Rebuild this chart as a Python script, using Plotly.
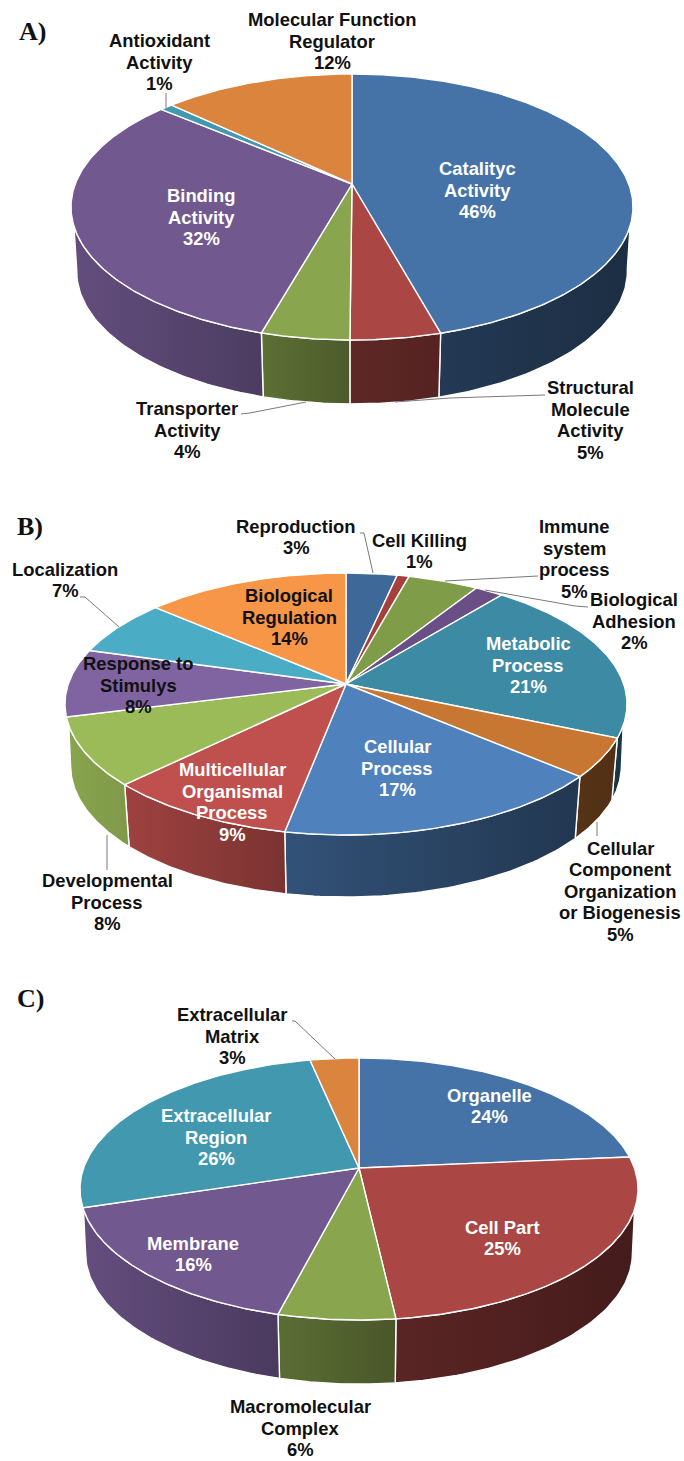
import numpy as np
import plotly.graph_objects as go

# ---------- data ----------
names_a = ["Catalityc<br>Activity", "Structural<br>Molecule<br>Activity", "Transporter<br>Activity",
           "Binding<br>Activity", "Antioxidant<br>Activity", "Molecular Function<br>Regulator"]
labels_a = [46, 5, 4, 32, 1, 12]
shares_a = [45.7, 4.4, 4.3, 31.7, 0.9, 13.0]

names_b = ["Reproduction", "Cell Killing", "Immune<br>system<br>process", "Biological<br>Adhesion",
           "Metabolic<br>Process", "Cellular<br>Component<br>Organization<br>or Biogenesis",
           "Cellular<br>Process", "Multicellular<br>Organismal<br>Process", "Developmental<br>Process",
           "Response to<br>Stimulys", "Localization", "Biological<br>Regulation"]
labels_b = [3, 1, 5, 2, 21, 5, 17, 9, 8, 8, 7, 14]
shares_b = [3.4, 0.8, 4.7, 1.9, 20.7, 4.8, 16.7, 9.6, 8.4, 8.4, 7.0, 13.6]

names_c = ["Organelle", "Cell Part", "Macromolecular<br>Complex", "Membrane",
           "Extracellular<br>Region", "Extracellular<br>Matrix"]
labels_c = [24, 25, 6, 16, 26, 3]
shares_c = [23.6, 24.6, 5.8, 16.2, 26.5, 3.3]

colors_a = ["#4572A7", "#AA4643", "#89A54E", "#71588F", "#4198AF", "#DB843D"]
colors_b = ["#3D6898", "#A5403C", "#7F9C48", "#694F85", "#3C8AA3", "#C87733",
            "#4F81BD", "#C0504D", "#9BBB59", "#8064A2", "#4BACC6", "#F79646"]
colors_c = colors_a

# ---------- layout of the three pies (centre, half width, back, front, depth) ----------
PIES = [
    dict(cx=352, cy=184, hw=281, back=110, front=156, depth=64),
    dict(cx=346, cy=684, hw=281, back=111, front=151, depth=62),
    dict(cx=359, cy=1168, hw=279, back=110, front=152, depth=64),
]
# label centres (x, y), text colour
pos_a = [(477, 190, "w"), (590, 420, "k"), (187, 430, "k"), (201, 217, "w"), (159, 62, "k"), (332, 41, "k")]
pos_b = [(296, 537, "k"), (419, 551, "k"), (574, 559, "k"), (634, 621, "k"), (528, 665, "w"), (620, 891, "k"),
         (397, 768, "w"), (232, 802, "w"), (107, 902, "k"), (138, 685, "k"), (65, 580, "k"), (289, 617, "k")]
pos_c = [(489, 1106, "w"), (502, 1238, "w"), (300, 1428, "k"), (193, 1254, "w"), (216, 1137, "w"), (232, 1036, "k")]

leaders = [
    [(166, 93), (166, 108)],
    [(241, 414), (250, 413), (306, 402)],
    [(395, 402), (450, 398), (545, 395)],
    [(360, 533), (364, 533), (373, 573)],
    [(538, 576), (445, 581)],
    [(588, 607), (575, 606), (485, 590)],
    [(80, 597), (85, 597), (119, 627)],
    [(597, 822), (597, 836)],
    [(107, 835), (107, 870)],
    [(292, 1021), (295, 1021), (335, 1059)],
]
panel_letters = [("A)", 32, 31), ("B)", 30, 526), ("C)", 30, 998)]
LINE_PITCH = 21.5
WALL_TOP = (108, 252)
WALL_BOTTOM = (99, 261)


def projector(p):
    k = (p["front"] - p["back"]) / (p["front"] + p["back"])
    A = p["back"] * (1 + k)
    B = p["hw"] * np.sqrt(1 - k * k)

    def rim(deg):
        a = np.radians(deg)
        X, Y = np.sin(a), np.cos(a)
        w = 1 + k * Y
        return p["cx"] + B * X / w, p["cy"] - A * Y / w

    return rim


def shade(hex_col, f):
    r, g, b = int(hex_col[1:3], 16), int(hex_col[3:5], 16), int(hex_col[5:7], 16)
    return f"rgb({r*f:.0f},{g*f:.0f},{b*f:.0f})"


def brightness(u):
    return float(np.interp(u, [-1, -0.5, 0, 1], [0.88, 0.75, 0.55, 0.40]))


fig = go.Figure()


def add_pie(p, shares, colors):
    rim = projector(p)
    edges = np.concatenate([[0], np.cumsum(shares)]) / sum(shares) * 360
    # side walls
    for i in range(len(shares)):
        e0, e1 = edges[i], edges[i + 1]
        t0, t1 = max(e0, WALL_TOP[0]), min(e1, WALL_TOP[1])
        if t1 <= t0:
            continue
        b0 = e0 if e0 >= WALL_TOP[0] else WALL_BOTTOM[0]
        b1 = e1 if e1 <= WALL_TOP[1] else WALL_BOTTOM[1]
        xt, yt = rim(np.linspace(t0, t1, 60))
        xr, yr = rim(np.linspace(b0, b1, 60))
        xb = p["cx"] + (xr - p["cx"]) * 0.98
        yb = yr + p["depth"]
        xs = np.concatenate([xt, xb[::-1], xt[:1]])
        ys = np.concatenate([yt, yb[::-1], yt[:1]])
        x0, x1 = xs.min(), xs.max()
        f0 = brightness((x0 - p["cx"]) / p["hw"])
        f1 = brightness((x1 - p["cx"]) / p["hw"])
        fig.add_trace(go.Scatter(
            x=xs, y=ys, mode="lines", fill="toself",
            line=dict(color="white", width=1.4),
            fillgradient=dict(type="horizontal", start=x0, stop=x1,
                              colorscale=[[0, shade(colors[i], f0)], [1, shade(colors[i], f1)]]),
            hoverinfo="skip", showlegend=False))
    # top faces
    for i in range(len(shares)):
        t = np.linspace(edges[i], edges[i + 1], max(6, int(edges[i + 1] - edges[i]) * 2))
        xt, yt = rim(t)
        xs = np.concatenate([[p["cx"]], xt, [p["cx"]]])
        ys = np.concatenate([[p["cy"]], yt, [p["cy"]]])
        fig.add_trace(go.Scatter(
            x=xs, y=ys, mode="lines", fill="toself", fillcolor=colors[i],
            line=dict(color="white", width=1.4),
            hoverinfo="skip", showlegend=False))


add_pie(PIES[0], shares_a, colors_a)
add_pie(PIES[1], shares_b, colors_b)
add_pie(PIES[2], shares_c, colors_c)

for seg in leaders:
    fig.add_trace(go.Scatter(x=[q[0] for q in seg], y=[q[1] for q in seg], mode="lines",
                             line=dict(color="#7a7a7a", width=1), hoverinfo="skip", showlegend=False))

annotations = []
for names, vals, pos in [(names_a, labels_a, pos_a), (names_b, labels_b, pos_b), (names_c, labels_c, pos_c)]:
    for n, v, (x, y, c) in zip(names, vals, pos):
        lines = n.split("<br>") + [f"{v}%"]
        for j, line in enumerate(lines):
            annotations.append(dict(x=x, y=y + (j - (len(lines) - 1) / 2) * LINE_PITCH,
                                    xref="x", yref="y", text=f"<b>{line}</b>",
                                    showarrow=False, xanchor="center", yanchor="middle", align="center",
                                    font=dict(family="Liberation Sans", size=18.4,
                                              color="white" if c == "w" else "#111111")))
for s, x, y in panel_letters:
    annotations.append(dict(x=x, y=y, xref="x", yref="y", text=f"<b>{s}</b>", showarrow=False,
                            xanchor="center", yanchor="middle",
                            font=dict(family="Liberation Serif", size=26, color="#111111")))

fig.update_layout(
    width=684, height=1461, margin=dict(l=0, r=0, t=0, b=0),
    paper_bgcolor="white", plot_bgcolor="white", showlegend=False,
    xaxis=dict(range=[0, 684], visible=False, fixedrange=True),
    yaxis=dict(range=[1461, 0], visible=False, fixedrange=True),
    annotations=annotations,
)
fig.write_html("out.html", config=dict(displayModeBar=False),
               post_script="document.body.style.margin='0';document.documentElement.style.overflow='hidden';")
